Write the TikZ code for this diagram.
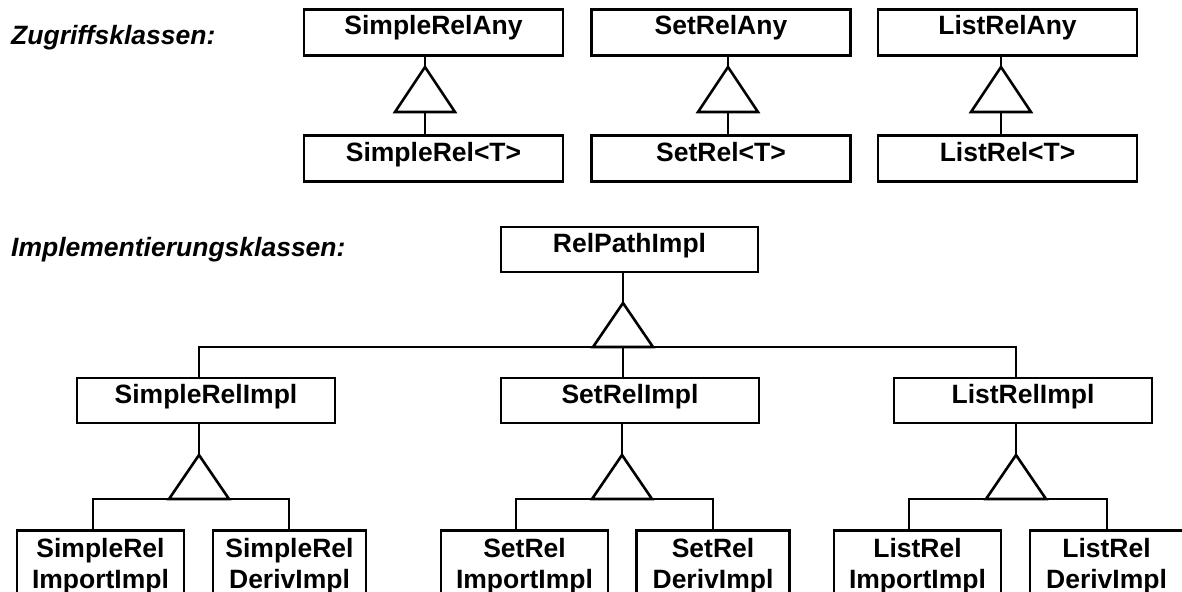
\documentclass[tikz,border=0pt]{standalone}
\usepackage{fontspec}
\setmainfont{Liberation Sans}
\newcommand\bxfont{\fontsize{26.5}{31}\selectfont\bfseries}
\newcommand\hdfont{\fontsize{26.5}{31}\selectfont\bfseries\itshape}
\begin{document}
\begin{tikzpicture}[x=1pt,y=-1pt,
  ln/.style={line width=2.6pt, black},
  cls/.style={draw, line width=2.6pt, minimum width=259pt, minimum height=46pt,
    inner sep=0pt, text height=20pt, text depth=15pt, font=\bxfont},
  cls2/.style={draw, line width=2.6pt, anchor=north, align=center,
    inner xsep=0pt, inner ysep=7.7pt, font=\bxfont},
  hd/.style={anchor=base west, inner sep=0pt, font=\hdfont}]
\useasboundingbox (0,0) rectangle (1182,591);
\clip (0,0) rectangle (1182,591);

% headings
\node[hd] (hz) at (11,45) {Zugriffsklassen:};
\node[hd] (hi) at (11,256) {Implementierungsklassen:};

% Zugriffsklassen
\node[cls] (sany) at (433.5,32.5) {SimpleRelAny};
\node[cls] (setany) at (721,32.5) {SetRelAny};
\node[cls] (lany) at (1007.5,32.5) {ListRelAny};
\node[cls] (srel) at (433.5,158.5) {SimpleRel<T>};
\node[cls] (setrel) at (721,158.5) {SetRel<T>};
\node[cls] (lrel) at (1007.5,158.5) {ListRel<T>};

\coordinate (ta1) at (425,67);  \coordinate (ta1b) at (425,112);
\coordinate (ta2) at (728,67);  \coordinate (ta2b) at (728,112);
\coordinate (ta3) at (1001,67); \coordinate (ta3b) at (1001,112);

\foreach \t in {ta1,ta2,ta3}
  \draw[ln] (\t) -- ++(-30,45) -- ++(60,0) -- cycle;

\draw[ln] (sany.south -| ta1) -- (ta1);
\draw[ln] (ta1b) -- (srel.north -| ta1b);
\draw[ln] (setany.south -| ta2) -- (ta2);
\draw[ln] (ta2b) -- (setrel.north -| ta2b);
\draw[ln] (lany.south -| ta3) -- (ta3);
\draw[ln] (ta3b) -- (lrel.north -| ta3b);

% Implementierungsklassen
\node[cls, minimum width=257pt, minimum height=45pt] (rp) at (629.5,249.5) {RelPathImpl};
\node[cls, minimum width=258pt, minimum height=45pt] (simpl) at (206,400.5) {SimpleRelImpl};
\node[cls, minimum width=258pt, minimum height=45pt] (setimpl) at (630,400.5) {SetRelImpl};
\node[cls, minimum width=258pt, minimum height=45pt] (limpl) at (1023,400.5) {ListRelImpl};

\coordinate (tr) at (623,303); \coordinate (trb) at (623,347);
\coordinate (ts) at (199,455); \coordinate (tsb) at (199,499);
\coordinate (tt) at (622,455); \coordinate (ttb) at (622,499);
\coordinate (tl) at (1016,455); \coordinate (tlb) at (1016,499);

\foreach \t in {tr,ts,tt,tl}
  \draw[ln] (\t) -- ++(-30,44) -- ++(60,0) -- cycle;

\draw[ln] (rp.south -| tr) -- (tr);
\draw[ln] (simpl.north -| ts) |- (trb) -| (limpl.north -| tl);
\draw[ln] (trb) -- (setimpl.north -| trb);
\draw[ln] (simpl.south -| ts) -- (ts);
\draw[ln] (setimpl.south -| tt) -- (tt);
\draw[ln] (limpl.south -| tl) -- (tl);

% bottom classes
\node[cls2, minimum width=167pt] (sii) at (100.5,529) {SimpleRel\\ImportImpl};
\node[cls2, minimum width=153pt] (sdi) at (289.5,529) {SimpleRel\\DerivImpl};
\node[cls2, minimum width=167pt] (tii) at (524.5,529) {SetRel\\ImportImpl};
\node[cls2, minimum width=153pt] (tdi) at (713,529) {SetRel\\DerivImpl};
\node[cls2, minimum width=167pt] (lii) at (917.5,529) {ListRel\\ImportImpl};
\node[cls2, minimum width=153pt] (ldi) at (1106.5,529) {ListRel\\DerivImpl};

\coordinate (xs1) at (93,0);  \coordinate (xs2) at (289,0);
\coordinate (xt1) at (516,0); \coordinate (xt2) at (713,0);
\coordinate (xl1) at (909,0); \coordinate (xl2) at (1107,0);

\draw[ln] (sii.north -| xs1) |- (tsb) -| (sdi.north -| xs2);
\draw[ln] (tii.north -| xt1) |- (ttb) -| (tdi.north -| xt2);
\draw[ln] (lii.north -| xl1) |- (tlb) -| (ldi.north -| xl2);
\end{tikzpicture}
\end{document}
